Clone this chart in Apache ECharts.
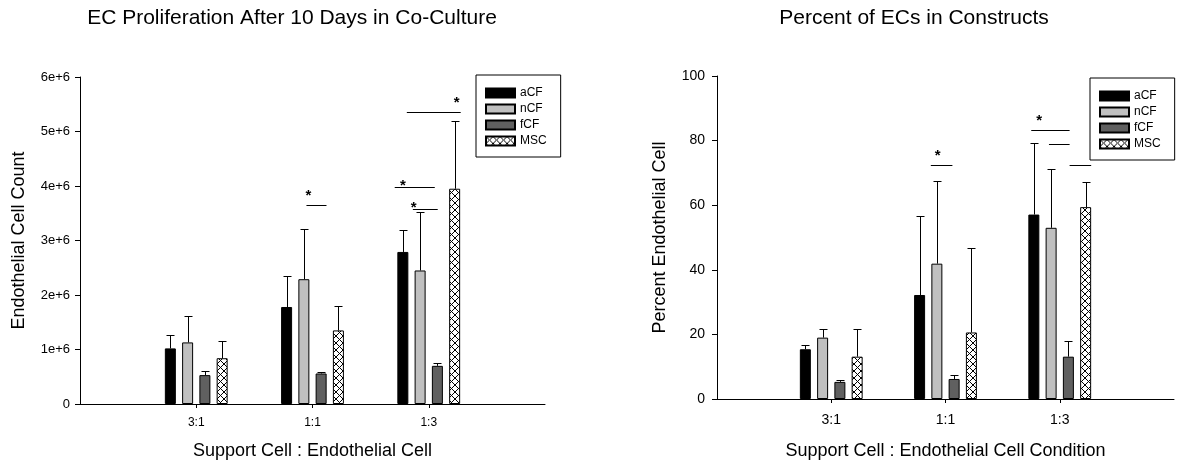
<!DOCTYPE html>
<html><head><meta charset="utf-8">
<script src="https://cdn.jsdelivr.net/npm/echarts@6/dist/echarts.min.js"></script>
<style>html,body{margin:0;padding:0;background:#fff}#c{width:1177px;height:465px}</style>
</head><body><div id="c"></div>
<script>
// ---------- data ----------
const categories = ['3:1', '1:1', '1:3'];
const seriesNames = ['aCF', 'nCF', 'fCF', 'MSC'];
const countTicks = [0, 1e6, 2e6, 3e6, 4e6, 5e6, 6e6];
const percentTicks = [0, 20, 40, 60, 80, 100];

// Left chart: Endothelial cell count (mean, SD)
const countMean_aCF = [1.02e6, 1.78e6, 2.79e6];
const countMean_nCF = [1.13e6, 2.29e6, 2.45e6];
const countMean_fCF = [0.53e6, 0.56e6, 0.70e6];
const countMean_MSC = [0.84e6, 1.35e6, 3.95e6];
const countSD_aCF = [0.24e6, 0.57e6, 0.40e6];
const countSD_nCF = [0.48e6, 0.93e6, 1.07e6];
const countSD_fCF = [0.08e6, 0.02e6, 0.05e6];
const countSD_MSC = [0.32e6, 0.45e6, 1.25e6];

// Right chart: percent endothelial cell (mean, SD)
const pctMean_aCF = [15.4, 32.2, 57.1];
const pctMean_nCF = [19.0, 41.9, 53.0];
const pctMean_fCF = [5.3, 6.2, 13.1];
const pctMean_MSC = [13.1, 20.6, 59.4];
const pctSD_aCF = [1.4, 24.6, 22.2];
const pctSD_nCF = [2.8, 25.7, 18.3];
const pctSD_fCF = [0.7, 1.3, 4.8];
const pctSD_MSC = [8.7, 26.0, 7.7];

// significance brackets: [category, from bar slot, to bar slot, y value]
const countSigLines = [['1:1', 1.15, 2.31, 3.66e6], ['1:3', 0.23, 3.35, 5.35e6], ['1:3', -0.47, 1.85, 3.98e6], ['1:3', 0.58, 2.02, 3.57e6]];
const countSigStars = [['1:1', 1.27, 3.89e6], ['1:3', 3.12, 5.59e6], ['1:3', 0.0, 4.07e6], ['1:3', 0.63, 3.68e6]];
const pctSigLines = [['1:1', 0.65, 1.9, 72.5], ['1:3', -0.15, 2.07, 83.3], ['1:3', 0.875, 2.07, 78.9], ['1:3', 2.07, 3.32, 72.5]];
const pctSigStars = [['1:1', 1.05, 76.5], ['1:3', 0.31, 87.3]];

// ---------- styling ----------
const FONT = 'Liberation Sans, Arial, sans-serif';
const BAR_W = 11, BAR_GAP = 0.57;
const PITCH = BAR_W * (1 + BAR_GAP);
function hatch() {
  const n = 7;
  const c = document.createElement('canvas'); c.width = n; c.height = n;
  const g = c.getContext('2d');
  g.fillStyle = '#fff'; g.fillRect(0, 0, n, n);
  g.strokeStyle = '#000'; g.lineWidth = 1;
  g.beginPath(); g.moveTo(0, 0); g.lineTo(n, n); g.moveTo(n, 0); g.lineTo(0, n); g.stroke();
  return c;
}
const colors = ['#000000', '#c0c0c0', '#606060', { image: hatch(), repeat: 'repeat' }];
const axisCats = [''].concat(categories, ['']);
const catIdx = c => axisCats.indexOf(c);

function barSeries(k, means, gi) {
  return {
    type: 'bar', name: seriesNames[k], xAxisIndex: gi, yAxisIndex: gi,
    barWidth: BAR_W, barGap: (BAR_GAP * 100) + '%',
    data: means.map((v, i) => [i + 1, v]),
    itemStyle: { color: colors[k], borderColor: '#000', borderWidth: 1 },
    emphasis: { disabled: true }, silent: true, z: 2
  };
}
function errSeries(k, means, sds, gi) {
  return {
    type: 'custom', xAxisIndex: gi, yAxisIndex: gi, silent: true, z: 3,
    data: means.map((v, i) => [i + 1, v, v + sds[i]]),
    encode: { x: 0, y: [1, 2] },
    renderItem: (p, api) => {
      const a = api.coord([api.value(0), api.value(1)]);
      const b = api.coord([api.value(0), api.value(2)]);
      const x = Math.round(a[0] + (k - 1.5) * PITCH) + 0.5;
      const yt = Math.round(b[1]) + 0.5;
      const st = { stroke: '#000', lineWidth: 1 };
      return { type: 'group', children: [
        { type: 'line', shape: { x1: x, y1: a[1], x2: x, y2: yt }, style: st },
        { type: 'line', shape: { x1: x - 4, y1: yt, x2: x + 4, y2: yt }, style: st }
      ] };
    }
  };
}
function sigSeries(lines, stars, gi) {
  return [{
    type: 'custom', xAxisIndex: gi, yAxisIndex: gi, silent: true, z: 4,
    data: lines.map(l => [catIdx(l[0]), l[1], l[2], l[3]]),
    encode: { x: 0, y: 3 },
    renderItem: (p, api) => {
      const c = api.coord([api.value(0), api.value(3)]);
      const y = Math.round(c[1]) + 0.5;
      return { type: 'line', shape: { x1: c[0] + (api.value(1) - 1.5) * PITCH, y1: y, x2: c[0] + (api.value(2) - 1.5) * PITCH, y2: y }, style: { stroke: '#000', lineWidth: 1 } };
    }
  }, {
    type: 'custom', xAxisIndex: gi, yAxisIndex: gi, silent: true, z: 4,
    data: stars.map(s => [catIdx(s[0]), s[1], s[2]]),
    encode: { x: 0, y: 2 },
    renderItem: (p, api) => {
      const c = api.coord([api.value(0), api.value(2)]);
      return { type: 'text', x: c[0] + (api.value(1) - 1.5) * PITCH, y: c[1] + 4,
        style: { text: '*', font: 'bold 15px ' + FONT, fill: '#000', align: 'center', verticalAlign: 'middle', textAlign: 'center', textVerticalAlign: 'middle' } };
    }
  }];
}

function xAxis(gi, name, labelSize, margin, nameGap) {
  return {
    type: 'category', gridIndex: gi, data: axisCats, boundaryGap: false,
    axisLine: { lineStyle: { color: '#000', width: 1 } },
    axisTick: { interval: (i) => i > 0 && i < axisCats.length - 1, length: 4, lineStyle: { color: '#000' } },
    axisLabel: { interval: 0, color: '#000', fontSize: labelSize, fontFamily: FONT, margin: margin },
    name: name, nameLocation: 'middle', nameGap: nameGap,
    nameTextStyle: { fontSize: 18, color: '#000', fontFamily: FONT },
    splitLine: { show: false }
  };
}
function yAxis(gi, name, ticks, fmt, labelSize, margin, nameGap) {
  return {
    type: 'value', gridIndex: gi, min: ticks[0], max: ticks[ticks.length - 1], interval: ticks[1] - ticks[0],
    axisLine: { show: true, lineStyle: { color: '#000', width: 1 } },
    axisTick: { show: true, length: 5, lineStyle: { color: '#000' } },
    axisLabel: { color: '#000', fontSize: labelSize, fontFamily: FONT, margin: margin, formatter: fmt },
    splitLine: { show: false },
    name: name, nameLocation: 'middle', nameGap: nameGap,
    nameTextStyle: { fontSize: 18, color: '#000', fontFamily: FONT }
  };
}
function legend(left, top) {
  return {
    data: seriesNames, orient: 'vertical', left: left, top: top, icon: 'rect',
    itemWidth: 29, itemHeight: 9, itemGap: 4, padding: [12, 14, 10, 9],
    borderColor: '#000', borderWidth: 1, selectedMode: false,
    textStyle: { fontSize: 12, color: '#000', fontFamily: FONT }
  };
}

const countMeans = [countMean_aCF, countMean_nCF, countMean_fCF, countMean_MSC];
const countSDs = [countSD_aCF, countSD_nCF, countSD_fCF, countSD_MSC];
const pctMeans = [pctMean_aCF, pctMean_nCF, pctMean_fCF, pctMean_MSC];
const pctSDs = [pctSD_aCF, pctSD_nCF, pctSD_fCF, pctSD_MSC];

let series = [];
for (let k = 0; k < 4; k++) {
  series.push(barSeries(k, countMeans[k], 0), errSeries(k, countMeans[k], countSDs[k], 0));
  series.push(barSeries(k, pctMeans[k], 1), errSeries(k, pctMeans[k], pctSDs[k], 1));
}
series = series.concat(sigSeries(countSigLines, countSigStars, 0), sigSeries(pctSigLines, pctSigStars, 1));

const option = {
  animation: false,
  backgroundColor: '#fff',
  textStyle: { fontFamily: FONT },
  graphic: [
    { type: 'text', x: 292, y: 18, style: { text: 'EC Proliferation After 10 Days in Co-Culture', font: '21px ' + FONT, fill: '#000', align: 'center', verticalAlign: 'middle', textAlign: 'center', textVerticalAlign: 'middle' } },
    { type: 'text', x: 914, y: 18, style: { text: 'Percent of ECs in Constructs', font: '21px ' + FONT, fill: '#000', align: 'center', verticalAlign: 'middle', textAlign: 'center', textVerticalAlign: 'middle' } }
  ],
  grid: [
    { left: 80, top: 77, width: 465, height: 327 },
    { left: 717, top: 76, width: 460, height: 324 }
  ],
  legend: [legend(476, 75), legend(1090, 78)],
  xAxis: [
    xAxis(0, 'Support Cell : Endothelial Cell', 12, 13, 38),
    xAxis(1, 'Support Cell : Endothelial Cell Condition', 14, 14, 43)
  ],
  yAxis: [
    yAxis(0, 'Endothelial Cell Count', countTicks, v => v === 0 ? '0' : (v / 1e6) + 'e+6', 13, 10, 52),
    yAxis(1, 'Percent Endothelial Cell', percentTicks, v => String(v), 14, 12, 48)
  ],
  series: series
};
const chart = echarts.init(document.getElementById('c'), null, { renderer: 'canvas' });
chart.setOption(option);
</script></body></html>
